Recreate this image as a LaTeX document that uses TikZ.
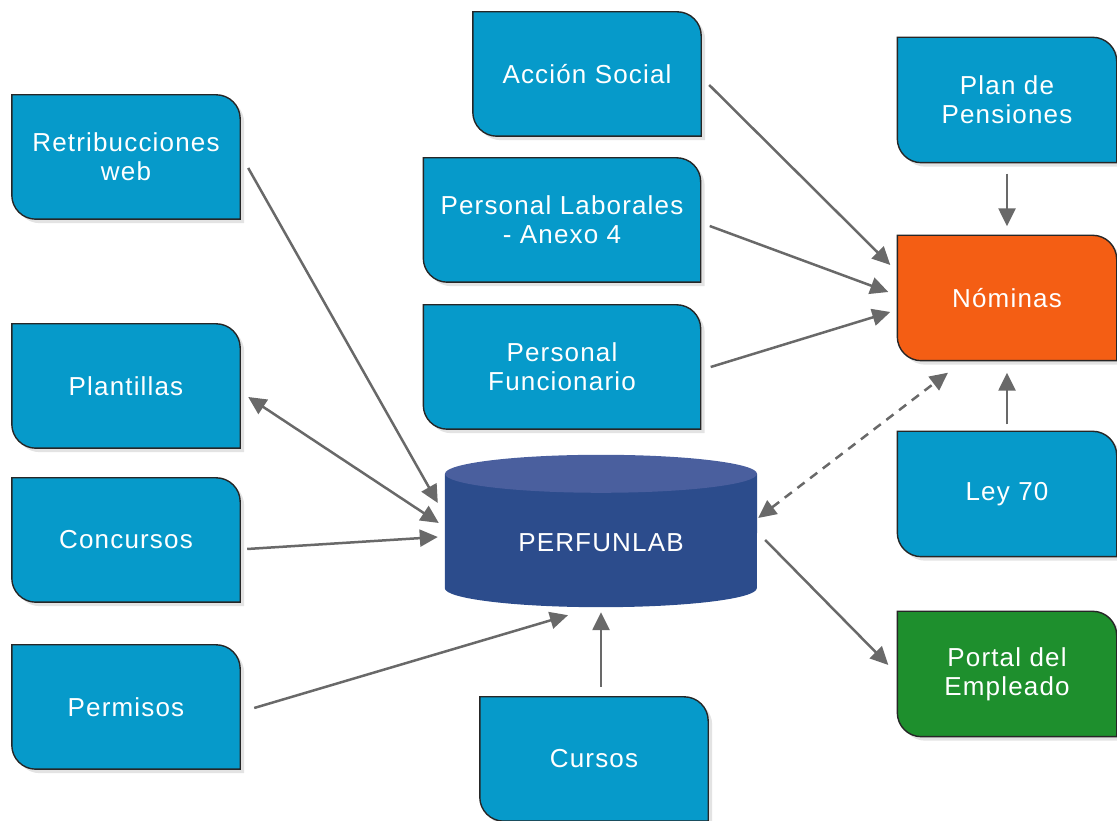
\documentclass[tikz,border=0pt]{standalone}
\usepackage{fontspec}
\newfontfamily\boxfont{Liberation Sans}[LetterSpace=4.5]
\usetikzlibrary{positioning, arrows.meta, shadows, backgrounds}

\definecolor{boxblue}{RGB}{6,154,202}
\definecolor{nomorange}{RGB}{244,94,20}
\definecolor{portalgreen}{RGB}{30,143,45}
\definecolor{dbbody}{RGB}{44,76,140}
\definecolor{dbtop}{RGB}{74,95,158}
\definecolor{linkgray}{RGB}{105,105,105}

\begin{document}
\begin{tikzpicture}[x=1pt, y=1pt, on grid, >={Triangle[length=18pt,width=17pt]},
    font=\boxfont\fontsize{26}{29}\selectfont]
      \tikzset{every node/.style={text=white, align=center, inner sep=0pt},
        proc/.style={minimum width=228pt, minimum height=124pt},
        wideproc/.style={proc, minimum width=277pt},
        sideproc/.style={minimum width=219pt, minimum height=125pt},
        dbase/.style={minimum width=312pt, minimum height=152pt, text height=42pt, text depth=0pt},
        boxframe/.style={draw=black!85, line width=1.4pt,
          drop shadow={shadow xshift=4pt, shadow yshift=-4pt, fill=black!22}},
        link/.style={->, draw=linkgray, line width=2.5pt}}
      \useasboundingbox (0,0) rectangle (1117,821);
      \node[dbase] (db) at (601,290) {PERFUNLAB};
      \node[proc] (ret) [above left = 374pt and 475pt of db] {Retribucciones\\web};
      \node[proc] (plant) [above left = 145pt and 475pt of db] {Plantillas};
      \node[proc] (conc) [below left = 9pt and 475pt of db] {Concursos};
      \node[proc] (perm) [below left = 176pt and 475pt of db] {Permisos};
      \node[proc] (cursos) [below left = 228pt and 7pt of db] {Cursos};
      \node[wideproc] (func) [above left = 164pt and 39pt of db] {Personal\\Funcionario};
      \node[wideproc] (lab) [above = 147pt of func] {Personal Laborales\\- Anexo 4};
      \node[proc] (accion) [above right = 146pt and 25pt of lab] {Acción Social};
      \node[sideproc] (nom) [above right = 233pt and 406pt of db] {Nóminas};
      \node[sideproc] (plan) [above = 198pt of nom] {Plan de\\Pensiones};
      \node[sideproc] (ley) [below = 196pt of nom] {Ley 70};
      \node[sideproc] (portal) [below = 180pt of ley] {Portal del\\Empleado};
      \begin{scope}[on background layer]
        \foreach \n/\c in {ret/boxblue, plant/boxblue, conc/boxblue, perm/boxblue,
            cursos/boxblue, func/boxblue, lab/boxblue, accion/boxblue,
            nom/nomorange, plan/boxblue, ley/boxblue, portal/portalgreen}
          \path[boxframe, fill=\c] (\n.north west) -- ([xshift=-24pt]\n.north east)
            arc[start angle=90, end angle=0, radius=24pt] -- (\n.south east)
            -- ([xshift=24pt]\n.south west) arc[start angle=270, end angle=180, radius=24pt] -- cycle;
        % cylinder
        \fill[dbbody] ([yshift=-19pt]db.north west) -- ([yshift=19pt]db.south west)
          arc[start angle=180, end angle=360, x radius=156pt, y radius=19pt]
          -- ([yshift=-19pt]db.north east) -- cycle;
        \fill[dbtop] ([yshift=-19pt]db.north) ellipse[x radius=156pt, y radius=19pt];
      \end{scope}
      \draw[link] ([shift={(8pt,-11pt)}]ret.east) -- ([shift={(-7pt,28pt)}]db.west);
      \draw[link, <->] ([shift={(8pt,-11pt)}]plant.east) -- ([shift={(-6pt,8pt)}]db.west);
      \draw[link] ([shift={(7pt,-9pt)}]conc.east) -- ([shift={(-7pt,-6pt)}]db.west);
      \draw[link] ([shift={(14pt,-1pt)}]perm.east) -- ([shift={(-33pt,-8pt)}]db.south);
      \draw[link] ([shift={(7pt,10pt)}]cursos.north) -- ([yshift=-5pt]db.south);
      \draw[link] ([shift={(8pt,-11pt)}]accion.east) -- ([shift={(-7pt,33pt)}]nom.west);
      \draw[link] ([shift={(9pt,-6pt)}]lab.east) -- ([shift={(-9pt,6pt)}]nom.west);
      \draw[link] ([xshift=10pt]func.east) -- ([shift={(-7pt,-14pt)}]nom.west);
      \draw[link] ([yshift=-11pt]plan.south) -- ([yshift=9pt]nom.north);
      \draw[link] ([yshift=7pt]ley.north) -- ([yshift=-12pt]nom.south);
      \draw[link, <->, dash pattern=on 9pt off 7pt] ([shift={(1pt,13pt)}]db.east) -- ([shift={(-59pt,-12pt)}]nom.south);
      \draw[link] ([shift={(8pt,-9pt)}]db.east) -- ([shift={(-9pt,9pt)}]portal.west);
    \end{tikzpicture}
\end{document}
